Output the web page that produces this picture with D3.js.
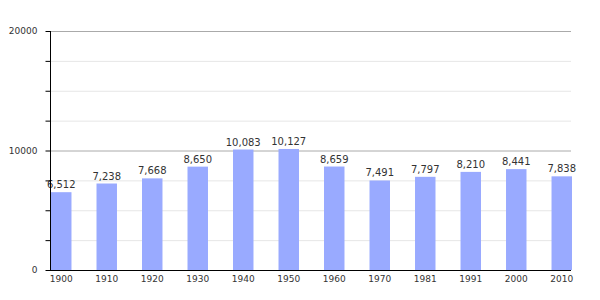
<!DOCTYPE html>
<html>
<head>
<meta charset="utf-8">
<script src="https://cdn.jsdelivr.net/npm/d3@7"></script>
<style>
  body { margin: 0; background: #fff; }
  text { font-family: "DejaVu Sans", sans-serif; }
</style>
</head>
<body>
<svg id="chart" width="600" height="300"></svg>
<script>
// -------------------- DATA -------------------- //
const years = ["1900", "1910", "1920", "1930", "1940", "1950", "1960", "1970", "1981", "1991", "2000", "2010"];
const population = [6512, 7238, 7668, 8650, 10083, 10127, 8659, 7491, 7797, 8210, 8441, 7838];
const yTickLabels = [0, 10000, 20000];

// -------------------- SETUP -------------------- //
let svg = d3.select("#chart");
let plotLeft = 50, plotRight = 571, plotTop = 31, plotBottom = 270;

let x = d3.scaleBand().domain(years).range([plotLeft, plotRight]).paddingInner(0.55).paddingOuter(0);
let y = d3.scaleLinear().domain([0, 20000]).range([plotBottom, plotTop]);

// minor grid every 2500
let minor = d3.range(2500, 20000, 2500).filter(d => d % 10000 != 0);
svg.selectAll(".minor").data(minor).join("line")
    .attr("class", "minor")
    .attr("x1", plotLeft).attr("x2", plotRight)
    .attr("y1", d => y(d) + 0.5).attr("y2", d => y(d) + 0.5)
    .attr("stroke", "#e6e6e6");

// major grid
svg.selectAll(".major").data([10000, 20000]).join("line")
    .attr("class", "major")
    .attr("x1", plotLeft).attr("x2", plotRight)
    .attr("y1", d => y(d) + 0.5).attr("y2", d => y(d) + 0.5)
    .attr("stroke", "#aaaaaa");

// bars
svg.selectAll("rect").data(population).join("rect")
    .attr("x", (d, i) => x(years[i]) + 1)
    .attr("y", d => y(d))
    .attr("width", x.bandwidth())
    .attr("height", d => plotBottom - y(d))
    .attr("fill", "#99aaff");

// value labels
svg.selectAll(".val").data(population).join("text")
    .attr("class", "val")
    .attr("x", (d, i) => x(years[i]) + 1 + x.bandwidth() / 2)
    .attr("y", d => y(d) - 4)
    .attr("text-anchor", "middle")
    .attr("font-size", 10)
    .attr("fill", "#333")
    .text(d => d3.format(",")(d));

// y axis with ticks every 2500
let yAxis = d3.axisLeft(y).tickValues(d3.range(0, 20001, 2500)).tickSize(5)
    .tickFormat(d => yTickLabels.includes(d) ? d : "");
let gy = svg.append("g").attr("transform", `translate(${plotLeft + 0.5},0)`).call(yAxis);
gy.select(".domain").attr("stroke", "#000").attr("d", `M0,${plotTop}V${plotBottom}`);
gy.selectAll(".tick line").attr("stroke", "#000");
gy.selectAll(".tick text").attr("font-size", 9).attr("fill", "#333").attr("x", -13)
    .attr("font-family", "DejaVu Sans, sans-serif");

// x axis
svg.append("line")
    .attr("x1", plotLeft).attr("x2", plotRight)
    .attr("y1", plotBottom + 0.5).attr("y2", plotBottom + 0.5)
    .attr("stroke", "#000");

svg.selectAll(".yr").data(years).join("text")
    .attr("class", "yr")
    .attr("x", d => x(d) + 1 + x.bandwidth() / 2)
    .attr("y", plotBottom + 12)
    .attr("text-anchor", "middle")
    .attr("font-size", 9)
    .attr("fill", "#333")
    .text(d => d);
</script>
</body>
</html>
